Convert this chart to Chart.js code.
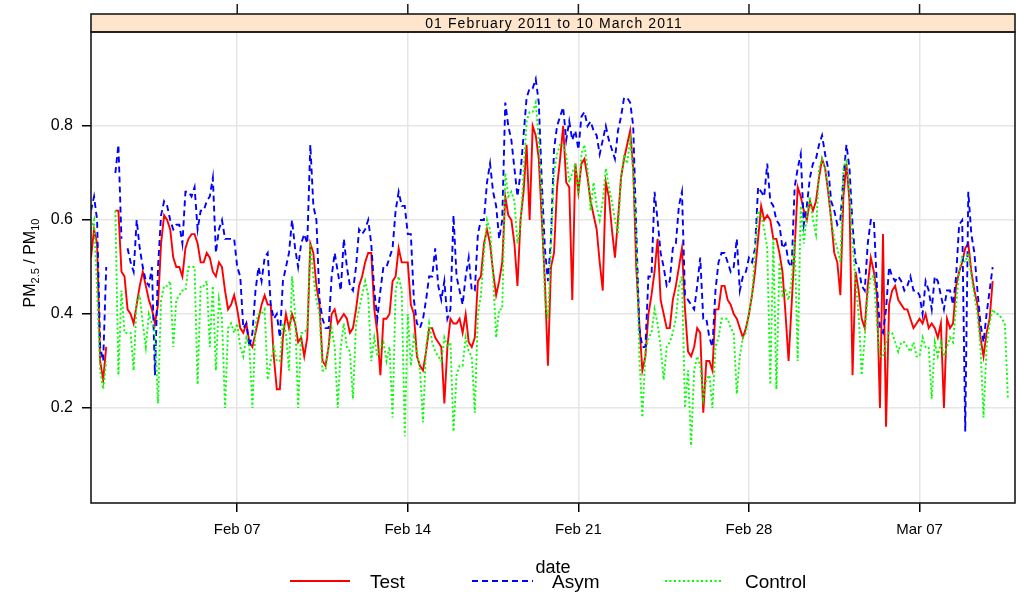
<!DOCTYPE html>
<html>
<head>
<meta charset="utf-8">
<script src="https://cdn.jsdelivr.net/npm/chart.js@4/dist/chart.umd.min.js"></script>
<style>
  html, body { margin: 0; padding: 0; background: #fff; }
  #wrap { position: relative; width: 1017px; height: 594px; }
</style>
</head>
<body>
<div id="wrap"><canvas id="c" width="1017" height="594"></canvas></div>
<script>
// PM2.5 / PM10 ratio, 3-hourly, starting 01 Feb 2011 00:00
const panelTitle = '01 February 2011 to 10 March 2011';
const stepHours = 3;
const xTickHours = [144, 312, 480, 648, 816];
const xTickLabels = ['Feb 07', 'Feb 14', 'Feb 21', 'Feb 28', 'Mar 07'];
const yTicks = [0.2, 0.4, 0.6, 0.8];
const seriesNames = ['Test', 'Asym', 'Control'];

const test = [
  0.52,0.58,0.55,0.30,0.26,0.33,null,null, // Feb 01
  0.62,0.62,0.49,0.48,0.41,0.40,0.38,0.42,
  0.46,0.49,0.46,0.43,0.41,0.38,0.42,0.55,
  0.61,0.60,0.58,0.52,0.50,0.50,0.48,0.54,
  0.56,0.57,0.57,0.55,0.51,0.51,0.53,0.52,
  0.49,0.48,0.51,0.50,0.45,0.41,0.42,0.44,
  0.41,0.37,0.36,0.38,0.34,0.33,0.36,0.39, // Feb 07
  0.42,0.44,0.42,0.42,0.31,0.24,0.24,0.35,
  0.40,0.37,0.40,0.38,0.34,0.35,0.31,0.35,
  0.55,0.53,0.46,0.42,0.30,0.29,0.33,0.40,
  0.41,0.38,0.39,0.40,0.39,0.36,0.37,0.41,
  0.46,0.48,0.51,0.53,0.53,0.41,0.36,0.27,
  0.39,0.39,0.40,0.47,0.48,0.54,0.51,0.51,
  0.51,0.42,0.40,0.31,0.29,0.28,0.32,0.37, // Feb 14
  0.37,0.35,0.34,0.33,0.21,0.33,0.39,0.38,
  0.38,0.39,0.36,0.40,0.34,0.33,0.35,0.47,
  0.48,0.55,0.58,0.55,0.49,0.44,0.47,0.51,
  0.65,0.61,0.60,0.55,0.46,0.60,0.66,0.76,
  0.60,0.80,0.78,0.73,0.60,0.47,0.29,0.50,
  0.53,0.67,0.73,0.80,0.68,0.67,0.43,0.72,
  0.66,0.72,0.73,0.69,0.64,0.61,0.58,0.51, // Feb 21
  0.45,0.68,0.65,0.58,0.52,0.60,0.69,0.73,
  0.76,0.79,0.71,0.50,0.38,0.28,0.31,0.40,
  0.44,0.49,0.56,0.43,0.40,0.37,0.37,0.43,
  0.46,0.50,0.54,0.41,0.32,0.31,0.33,0.37,
  0.36,0.19,0.30,0.30,0.28,0.41,0.41,0.46,
  0.46,0.43,0.42,0.40,0.39,0.37,0.35,0.37,
  0.40,0.44,0.49,0.56,0.63,0.60,0.61,0.60, // Feb 28
  0.56,0.56,0.53,0.49,0.40,0.30,0.42,0.54,
  0.67,0.65,0.62,0.60,0.64,0.62,0.64,0.69,
  0.73,0.71,0.66,0.60,0.53,0.51,0.44,0.65,
  0.72,0.64,0.27,0.49,0.45,0.39,0.37,0.46,
  0.52,0.49,0.44,0.20,0.57,0.16,0.42,0.45,
  0.46,0.43,0.42,0.41,0.41,0.39,0.37,0.38,
  0.39,0.38,0.40,0.37,0.38,0.37,0.35,0.38, // Mar 07
  0.20,0.39,0.37,0.38,0.46,0.49,0.51,0.54,
  0.55,0.49,0.45,0.42,0.35,0.31,0.36,0.39,
  0.47
];

const asym = [
  0.62,0.65,0.60,0.33,0.30,0.50,null,null, // Feb 01
  0.70,0.76,0.56,null,0.54,0.51,0.49,0.60,
  0.54,0.50,0.47,0.46,0.50,0.27,0.50,0.61,
  0.64,0.63,0.60,0.58,0.59,0.59,0.55,0.66,
  0.66,0.65,0.67,0.58,0.62,0.62,0.64,0.65,
  0.69,0.53,0.58,0.60,0.56,0.56,0.56,0.56,
  0.50,0.48,0.37,0.38,0.33,0.36,0.45,0.50, // Feb 07
  0.47,0.52,0.53,0.42,0.39,0.40,0.35,0.47,
  0.50,0.53,0.60,0.54,0.50,0.55,0.57,0.55,
  0.76,0.63,0.60,0.43,0.39,0.37,0.37,0.48,
  0.53,0.49,0.45,0.56,0.50,0.46,0.45,0.50,
  0.58,0.57,0.58,0.60,0.55,0.45,0.39,0.45,
  0.50,0.50,0.52,0.54,0.62,0.66,0.63,0.63,
  0.57,0.57,0.43,0.38,0.37,0.39,0.43,0.48, // Feb 14
  0.48,0.54,0.46,0.43,0.47,0.39,0.41,0.61,
  0.48,0.45,0.42,0.48,0.52,0.45,0.45,0.57,
  0.60,0.60,0.68,0.72,0.66,0.63,0.56,0.60,
  0.85,0.80,0.77,0.71,0.65,0.70,0.78,0.86,
  0.88,0.88,0.90,0.85,0.68,0.54,0.47,0.56,
  0.75,0.80,0.82,0.84,0.77,0.81,0.77,0.79,
  0.75,0.82,0.83,0.80,0.81,0.79,0.78,0.74, // Feb 21
  0.77,0.80,0.77,0.75,0.73,0.79,0.82,0.86,
  0.86,0.85,0.80,0.58,0.37,0.33,0.33,0.48,
  0.48,0.66,0.60,0.53,0.50,0.46,0.47,0.54,
  0.55,0.63,0.66,0.44,0.43,0.42,0.41,0.46,
  0.52,0.39,0.39,0.35,0.33,0.45,0.51,0.53,
  0.53,0.51,0.49,0.50,0.56,0.45,0.48,0.49,
  0.52,0.51,0.54,0.67,0.66,0.65,0.72,0.64, // Feb 28
  0.63,0.60,0.59,0.54,0.55,0.51,0.50,0.67,
  0.71,0.74,0.59,0.63,0.69,0.72,0.73,0.76,
  0.78,0.74,0.71,0.64,0.62,0.59,0.60,0.69,
  0.76,0.71,0.59,0.51,0.50,0.46,0.45,0.55,
  0.60,0.60,0.46,0.37,0.36,0.41,0.50,0.48,
  0.47,0.48,0.47,0.45,0.46,0.48,0.45,0.45,
  0.44,0.40,0.47,0.45,0.41,0.48,0.47,0.44, // Mar 07
  0.41,0.45,0.45,0.42,0.48,0.59,0.60,0.15,
  0.66,0.57,0.53,0.45,0.38,0.34,0.40,0.45,
  0.50
];

const control = [
  0.58,0.60,0.45,0.28,0.24,0.30,null,null, // Feb 01
  0.62,0.27,0.45,0.36,0.36,0.36,0.28,0.43,
  0.44,0.38,0.33,0.40,0.38,0.36,0.21,0.43,
  0.46,0.46,0.47,0.33,0.43,0.44,0.45,0.45,
  0.50,0.50,0.50,0.25,0.46,0.46,0.47,0.33,
  0.46,0.28,0.43,0.39,0.20,0.37,0.38,0.36,
  0.38,0.33,0.31,0.35,0.33,0.20,0.38,0.40, // Feb 07
  0.40,0.41,0.26,0.30,0.33,0.30,0.30,0.38,
  0.36,0.28,0.48,0.40,0.20,0.36,0.36,0.37,
  0.55,0.48,0.43,0.40,0.28,0.28,0.33,0.37,
  0.33,0.20,0.33,0.38,0.33,0.32,0.22,0.38,
  0.41,0.44,0.47,0.44,0.30,0.35,0.31,0.33,
  0.34,0.30,0.33,0.18,0.45,0.48,0.45,0.14,
  0.40,0.29,0.35,0.32,0.28,0.17,0.33,0.38, // Feb 14
  0.34,0.32,0.31,0.30,0.35,0.33,0.34,0.15,
  0.27,0.29,0.29,0.35,0.32,0.31,0.19,0.40,
  0.44,0.53,0.60,0.58,0.48,0.35,0.41,0.41,
  0.70,0.65,0.66,0.64,0.55,0.59,0.70,0.81,
  0.83,0.83,0.85,0.77,0.64,0.43,0.39,0.54,
  0.70,0.74,0.76,0.76,0.74,0.68,0.70,0.72,
  0.65,0.74,0.76,0.71,0.62,0.68,0.63,0.60, // Feb 21
  0.64,0.71,0.67,0.64,0.60,0.57,0.69,0.74,
  0.72,0.77,0.70,0.56,0.31,0.18,0.32,0.35,
  0.36,0.41,0.38,0.33,0.26,0.33,0.34,0.36,
  0.39,0.46,0.48,0.20,0.28,0.12,0.28,0.31,
  0.29,0.22,0.26,0.27,0.20,0.33,0.35,0.39,
  0.39,0.39,0.37,0.36,0.23,0.31,0.35,0.36,
  0.40,0.44,0.53,0.62,0.61,0.58,0.54,0.25, // Feb 28
  0.56,0.24,0.51,0.44,0.45,0.43,0.47,0.56,
  0.30,0.63,0.55,0.61,0.65,0.60,0.57,0.71,
  0.73,0.71,0.67,0.60,0.56,0.54,0.51,0.71,
  0.73,0.66,0.55,0.47,0.40,0.27,0.35,0.44,
  0.48,0.48,0.38,0.31,0.31,0.34,0.36,0.36,
  0.34,0.32,0.34,0.34,0.33,0.32,0.34,0.31,
  0.31,0.35,0.33,0.33,0.22,0.34,0.31,0.34, // Mar 07
  0.31,0.33,0.35,0.34,0.42,0.49,0.52,0.51,
  0.53,0.48,0.44,0.40,0.33,0.18,0.33,0.38,
  0.41,0.40,0.40,0.39,0.38,0.22
];

const toPoints = arr => arr.map((v, i) => ({ x: i * stepHours, y: v }));

const FONT = 'Arial, "Liberation Sans", sans-serif';

const decor = {
  id: 'decor',
  afterDraw(chart) {
    const { ctx, chartArea: a, scales: { x } } = chart;
    const stripTop = 14;
    ctx.save();

    // strip above the panel
    ctx.fillStyle = '#FFE5CC';
    ctx.fillRect(a.left, stripTop, a.right - a.left, a.top - stripTop);
    ctx.strokeStyle = '#1a1a1a';
    ctx.lineWidth = 1.6;
    ctx.strokeRect(a.left, stripTop, a.right - a.left, a.top - stripTop);

    ctx.fillStyle = '#000';
    ctx.font = '14px ' + FONT;
    ctx.letterSpacing = '1.1px';
    ctx.textAlign = 'center';
    ctx.textBaseline = 'middle';
    ctx.fillText(panelTitle, (a.left + a.right) / 2 + 1, (stripTop + a.top) / 2 + 1);
    ctx.letterSpacing = '0px';

    // tick marks above the strip
    ctx.lineWidth = 1.5;
    xTickHours.forEach(h => {
      const px = x.getPixelForValue(h);
      ctx.beginPath();
      ctx.moveTo(px, 4);
      ctx.lineTo(px, stripTop);
      ctx.stroke();
    });

    // panel frame
    ctx.lineWidth = 1.6;
    ctx.strokeRect(a.left, a.top, a.right - a.left, a.bottom - a.top);

    // y axis title: PM2.5 / PM10
    const big = '16px ' + FONT, small = '11px ' + FONT;
    const parts = [
      { t: 'PM', f: big, dy: 0 },
      { t: '2.5', f: small, dy: 4 },
      { t: ' / PM', f: big, dy: 0 },
      { t: '10', f: small, dy: 4 }
    ];
    let total = 0;
    parts.forEach(p => { ctx.font = p.f; p.w = ctx.measureText(p.t).width; total += p.w; });
    ctx.save();
    ctx.translate(35, 263);
    ctx.rotate(-Math.PI / 2);
    ctx.textAlign = 'left';
    ctx.textBaseline = 'alphabetic';
    let cx = -total / 2;
    parts.forEach(p => { ctx.font = p.f; ctx.fillText(p.t, cx, p.dy); cx += p.w; });
    ctx.restore();

    // x axis title
    ctx.fillStyle = '#000';
    ctx.font = '18px ' + FONT;
    ctx.textAlign = 'center';
    ctx.textBaseline = 'alphabetic';
    ctx.fillText('date', 553, 573);

    // key below the axis title
    const keyY = 581;
    const keyCols = [
      { x0: 290, x1: 350, tx: 370 },
      { x0: 472, x1: 533, tx: 552 },
      { x0: 665, x1: 721, tx: 745 }
    ];
    chart.data.datasets.forEach((ds, i) => {
      const k = keyCols[i];
      ctx.strokeStyle = ds.borderColor;
      ctx.lineWidth = ds.borderWidth;
      ctx.setLineDash(ds.borderDash || []);
      ctx.beginPath();
      ctx.moveTo(k.x0, keyY);
      ctx.lineTo(k.x1, keyY);
      ctx.stroke();
      ctx.setLineDash([]);
      ctx.fillStyle = '#000';
      ctx.font = '19px ' + FONT;
      ctx.textAlign = 'left';
      ctx.textBaseline = 'middle';
      ctx.fillText(ds.label, k.tx, keyY + 2);
    });

    ctx.restore();
  }
};

new Chart(document.getElementById('c'), {
  type: 'line',
  data: {
    datasets: [
      { label: seriesNames[0], data: toPoints(test), borderColor: '#FF0000', borderWidth: 1.9, order: 2 },
      { label: seriesNames[1], data: toPoints(asym), borderColor: '#0000FF', borderWidth: 1.9, borderDash: [6, 4], order: 1 },
      { label: seriesNames[2], data: toPoints(control), borderColor: '#00FF00', borderWidth: 1.9, borderDash: [2, 2.5], order: 0 }
    ]
  },
  options: {
    responsive: false,
    animation: false,
    devicePixelRatio: 1,
    layout: { padding: { top: 32, right: 2, left: 0, bottom: 0 } },
    elements: { point: { radius: 0 }, line: { tension: 0, fill: false } },
    spanGaps: false,
    plugins: { legend: { display: false }, tooltip: { enabled: false } },
    scales: {
      x: {
        type: 'linear',
        min: 0,
        max: 910,
        afterBuildTicks: s => { s.ticks = xTickHours.map(v => ({ value: v })); },
        afterFit: s => { s.height = 91; },
        ticks: {
          autoSkip: false,
          maxRotation: 0,
          padding: 9,
          color: '#000',
          font: { family: FONT, size: 15 },
          callback: (v, i) => xTickLabels[i]
        },
        grid: { color: '#e6e6e6', lineWidth: 1.5, tickColor: '#000', tickLength: 9, tickWidth: 1.5 },
        border: { display: false }
      },
      y: {
        type: 'linear',
        min: -0.002,
        max: 1.0,
        afterBuildTicks: s => { s.ticks = yTicks.map(v => ({ value: v })); },
        afterFit: s => { s.width = 91; },
        ticks: {
          padding: 9,
          color: '#000',
          font: { family: FONT, size: 16 },
          callback: v => v.toFixed(1)
        },
        grid: { color: '#e6e6e6', lineWidth: 1.5, tickColor: '#000', tickLength: 9, tickWidth: 1.5 },
        border: { display: false }
      }
    }
  },
  plugins: [decor]
});
</script>
</body>
</html>
